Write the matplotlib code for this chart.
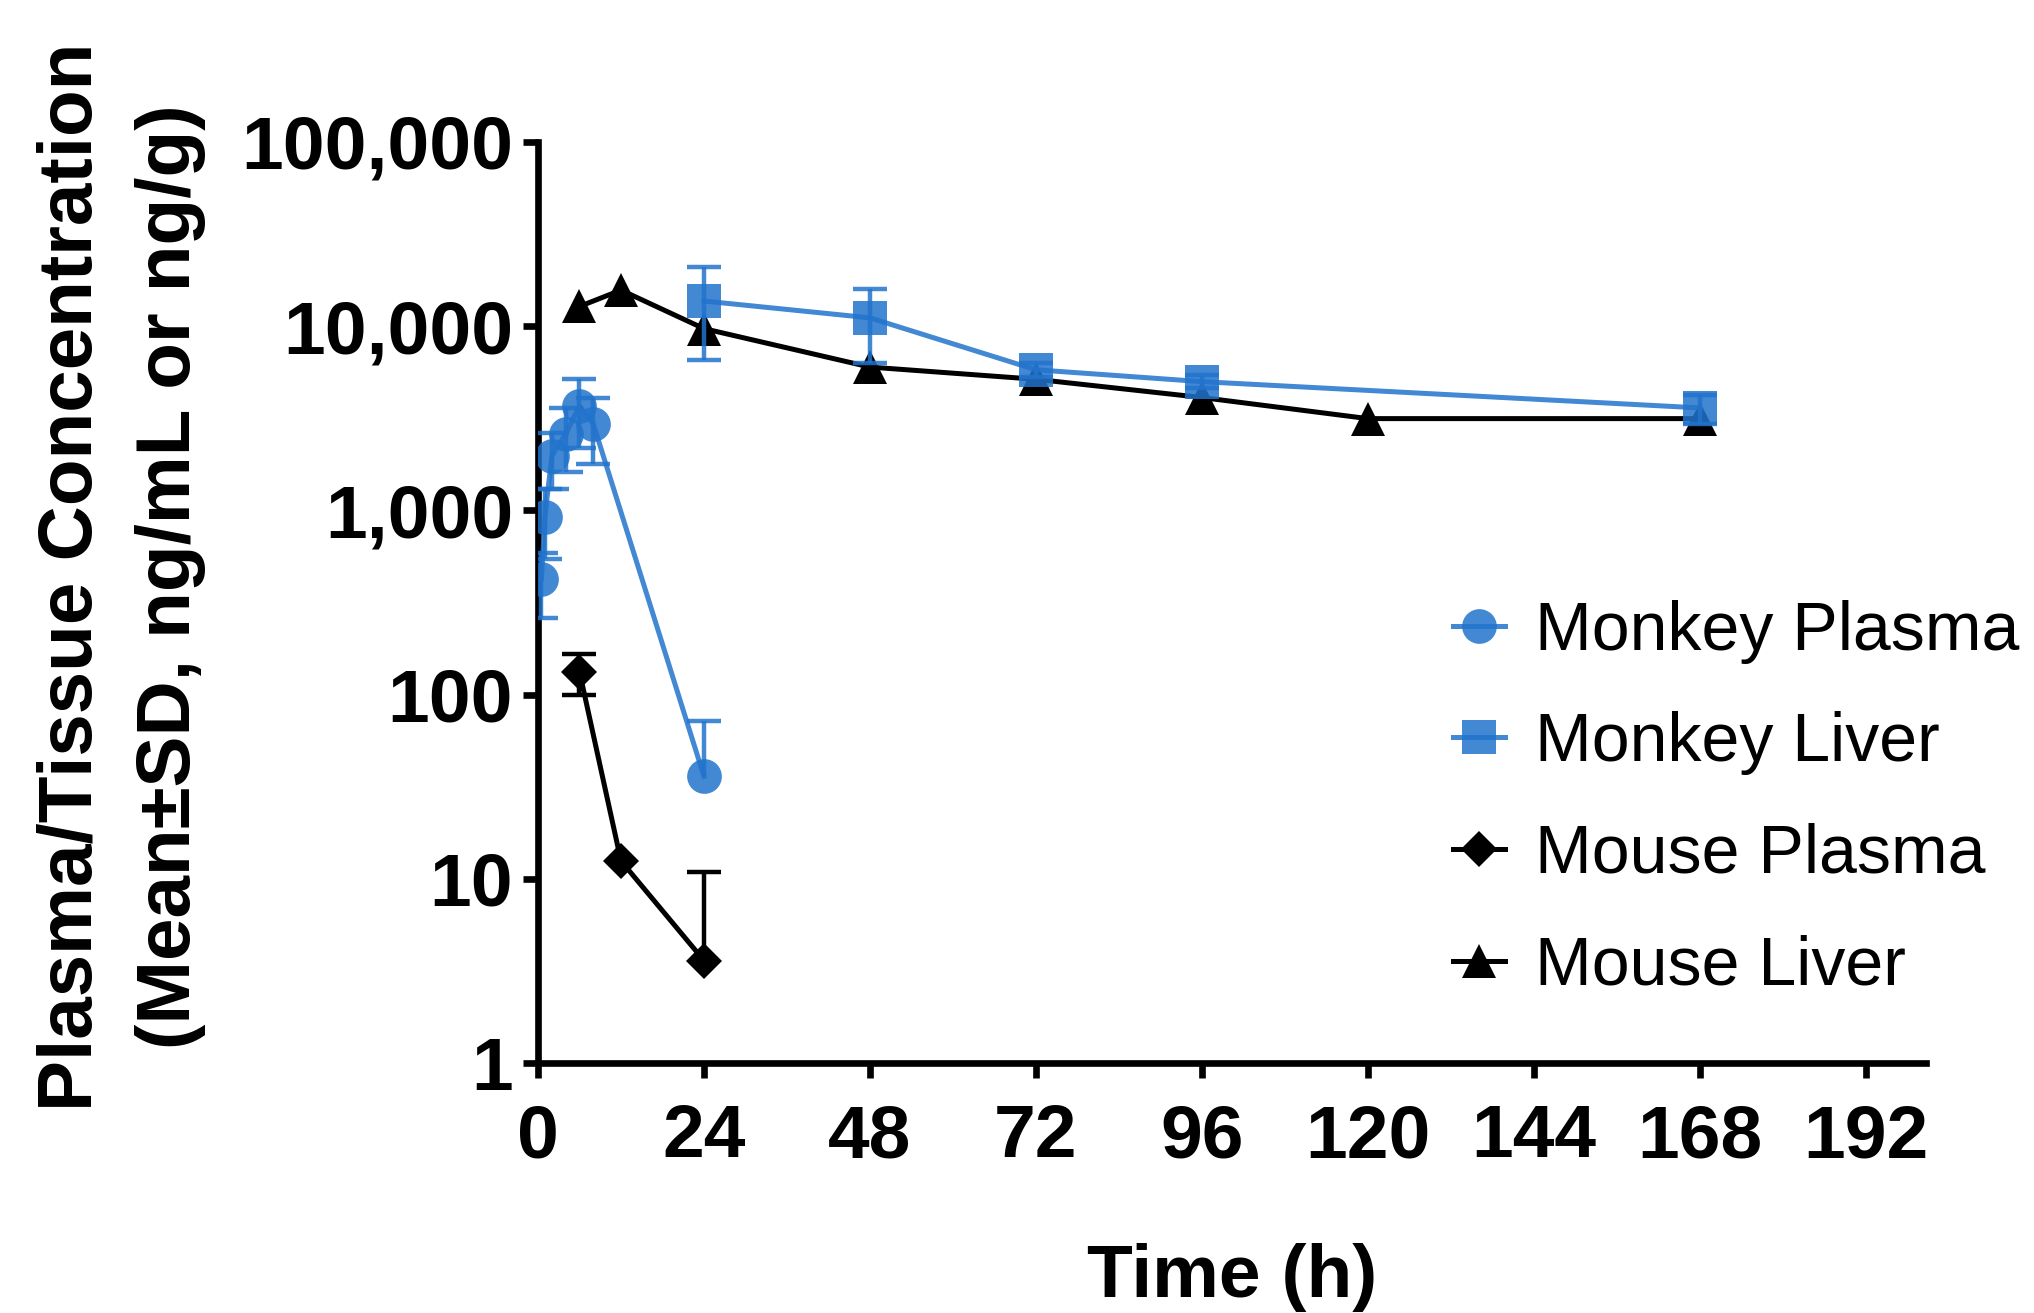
"""Plasma / liver concentration-time profiles, monkey vs mouse (log scale)."""

import matplotlib.pyplot as plt
import numpy as np

plt.rcParams['font.family'] = ['Liberation Sans', 'DejaVu Sans']

# 数据
monkey_plasma_t = [0.5, 1, 2, 4, 6, 8, 24]
monkey_plasma_c = [425, 925, 1970, 2600, 3690, 2940, 36]
monkey_plasma_sd = [165, 380, 670, 980, 1500, 1160, 36]

monkey_liver_t = [24, 48, 72, 96, 168]
monkey_liver_c = [13700, 11100, 5800, 5000, 3600]
monkey_liver_sd = [7150, 4800, 500, 400, 650]

mouse_plasma_t = [6, 12, 24]
mouse_plasma_c = [133, 12.5, 3.6]
mouse_plasma_sd = [34, 0, 7.3]

mouse_liver_t = [6, 12, 24, 48, 72, 96, 120, 168]
mouse_liver_c = [12800, 15700, 9700, 6000, 5150, 4100, 3150, 3150]

x_ticks = [0, 24, 48, 72, 96, 120, 144, 168, 192]
y_ticks = [1, 10, 100, 1000, 10000, 100000]
y_tick_labels = ['1', '10', '100', '1,000', '10,000', '100,000']

BLUE = '#2173cc'
BLUE_ALPHA = 0.85
BLACK = '#000000'

W, H = 2034, 1313


def draw_sd(ax, t, mean, sd, color, alpha, zorder):
    """画 Mean+SD 误差棒; 下限 <= 0 时只画上半部分 (对数轴)。"""
    t, mean, sd = np.asarray(t, float), np.asarray(mean, float), np.asarray(sd, float)
    has = sd > 0
    upper = mean + sd
    lower = mean - sd
    kw = dict(color=color, alpha=alpha, zorder=zorder)
    ax.vlines(t[has], mean[has], upper[has], linewidth=3.2, **kw)
    ax.plot(t[has], upper[has], ls='none', marker='_', ms=25, mew=3.2, **kw)
    low_ok = has & (lower > 0)
    ax.vlines(t[low_ok], lower[low_ok], mean[low_ok], linewidth=3.2, **kw)
    ax.plot(t[low_ok], lower[low_ok], ls='none', marker='_', ms=25, mew=3.2, **kw)


fig = plt.figure(figsize=(W / 100, H / 100), dpi=100)
ax = fig.add_axes([538 / W, 1 - 1063 / H, (1926 - 538) / W, (1063 - 142) / H])
ax.set_yscale('log')

# 小鼠 (黑色) 先画, 猴 (蓝色, 半透明) 叠在上面
l_mp, = ax.plot(mouse_plasma_t, mouse_plasma_c, color=BLACK, lw=3.6, marker='D', ms=18,
                mew=0, zorder=3, label='Mouse Plasma')
draw_sd(ax, mouse_plasma_t, mouse_plasma_c, mouse_plasma_sd, BLACK, 1.0, 3)
l_ml, = ax.plot(mouse_liver_t, mouse_liver_c, color=BLACK, lw=3.6, marker='^', ms=25,
                mew=0, zorder=3, label='Mouse Liver')

l_kp, = ax.plot(monkey_plasma_t, monkey_plasma_c, color=BLUE, alpha=BLUE_ALPHA, lw=3.6,
                marker='o', ms=25, mew=0, zorder=4, label='Monkey Plasma')
draw_sd(ax, monkey_plasma_t, monkey_plasma_c, monkey_plasma_sd, BLUE, BLUE_ALPHA, 4)
l_kl, = ax.plot(monkey_liver_t, monkey_liver_c, color=BLUE, alpha=BLUE_ALPHA, lw=3.6,
                marker='s', ms=25, mew=0, zorder=4, label='Monkey Liver')
draw_sd(ax, monkey_liver_t, monkey_liver_c, monkey_liver_sd, BLUE, BLUE_ALPHA, 4)

ax.set_xlim(0, 200.7)
ax.set_ylim(1, 100000)
ax.set_xticks(x_ticks)
ax.set_xticklabels([str(v) for v in x_ticks])
ax.set_yticks(y_ticks)
ax.set_yticklabels(y_tick_labels)
ax.minorticks_off()

for side in ('top', 'right'):
    ax.spines[side].set_visible(False)
for side in ('left', 'bottom'):
    ax.spines[side].set_linewidth(4.8)
    ax.spines[side].set_capstyle('projecting')
ax.tick_params(axis='both', length=11, width=4.8, labelsize=54, direction='out')
ax.tick_params(axis='x', pad=18)
ax.tick_params(axis='y', pad=7)
for lab in ax.get_xticklabels() + ax.get_yticklabels():
    lab.set_fontweight('bold')

# 坐标轴标题
fig.text(1232 / W, 1 - 1297 / H, 'Time (h)', fontsize=54, fontweight='bold',
         ha='center', va='baseline')
fig.text(92 / W, 1 - 577 / H, 'Plasma/Tissue Concentration', fontsize=55,
         fontweight='bold', rotation=90, rotation_mode='anchor', ha='center', va='baseline')
fig.text(190 / W, 1 - 577 / H, '(Mean±SD, ng/mL or ng/g)', fontsize=55,
         fontweight='bold', rotation=90, rotation_mode='anchor', ha='center', va='baseline')

ax.legend(handles=[l_kp, l_kl, l_mp, l_ml], loc='center left',
          bbox_to_anchor=(1453 / W, 1 - 799 / H), bbox_transform=fig.transFigure,
          frameon=False, fontsize=49, handlelength=0.77, handletextpad=0.43,
          labelspacing=0.7, borderpad=0, borderaxespad=0)

plt.savefig('out.png', dpi=100)
